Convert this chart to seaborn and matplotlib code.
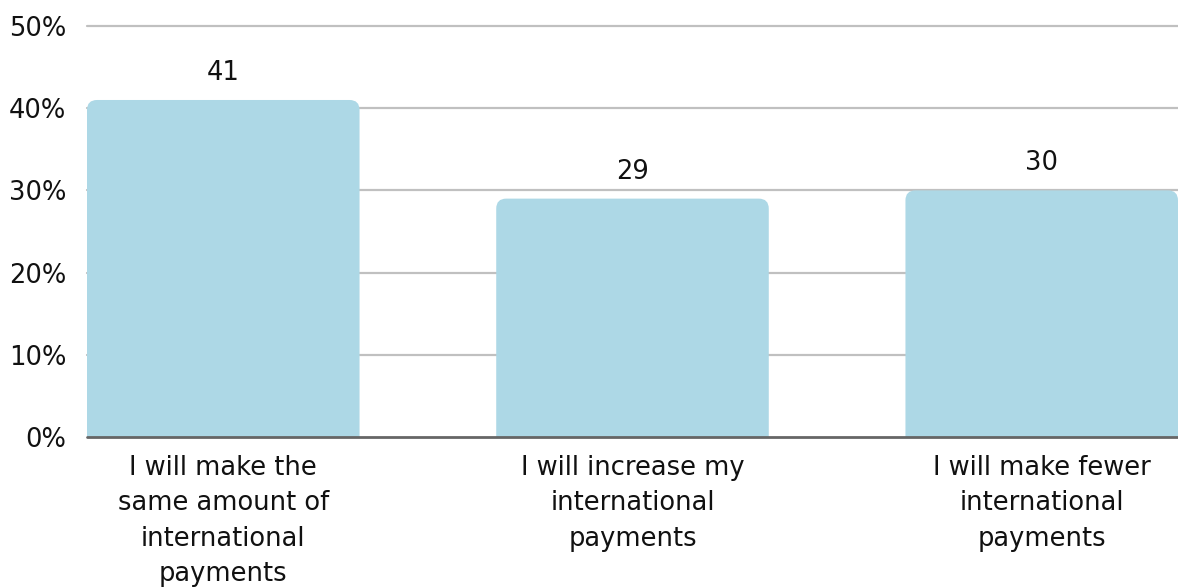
import matplotlib
matplotlib.use("Agg")
import matplotlib.pyplot as plt
from matplotlib.patches import FancyBboxPatch
import seaborn as sns
import pandas as pd

categories = [
    "I will make the\nsame amount of\ninternational\npayments",
    "I will increase my\ninternational\npayments",
    "I will make fewer\ninternational\npayments",
]
values = [41, 29, 30]
y_ticks = [0, 10, 20, 30, 40, 50]
y_tick_labels = ["0%", "10%", "20%", "30%", "40%", "50%"]

bar_color = "#add8e6"
grid_color = "#c0c0c0"
text_color = "#111111"
font_size = 18.5

sns.set_theme(style="white")
plt.rcParams["font.family"] = ["DejaVu Sans"]

df = pd.DataFrame({"category": categories, "value": values})

fig = plt.figure(figsize=(11.78, 5.88), dpi=100)
ax = fig.add_axes([87 / 1178, 1 - 437 / 588, 1 - 87 / 1178, (437 - 26) / 588])

sns.barplot(data=df, x="category", y="value", color=bar_color,
            width=0.666, saturation=1, ax=ax, zorder=2)

ax.set_ylim(0, 50)
ax.set_xlim(-0.333, 2.333)
ax.set_yticks(y_ticks)
ax.set_yticklabels(y_tick_labels)

# horizontal gridlines behind the bars, darker baseline at 0
for t in y_ticks[1:]:
    ax.axhline(t, color=grid_color, lw=1.6, zorder=1, clip_on=False)
ax.axhline(0, color="#666666", lw=2, zorder=3, clip_on=False)

# swap plain rectangles for bars with rounded top corners
fig.canvas.draw()
px_per_x = ax.get_window_extent().width / (ax.get_xlim()[1] - ax.get_xlim()[0])
px_per_y = ax.get_window_extent().height / (ax.get_ylim()[1] - ax.get_ylim()[0])
radius_px = 10
rx = radius_px / px_per_x
aspect = px_per_x / px_per_y
for p in list(ax.patches):
    x, w, h = p.get_x(), p.get_width(), p.get_height()
    p.set_visible(False)
    rounded = FancyBboxPatch((x, -5), w, h + 5,
                             boxstyle=f"round,pad=0,rounding_size={rx}",
                             mutation_aspect=aspect,
                             facecolor=bar_color, edgecolor="none", zorder=2)
    ax.add_patch(rounded)
    ax.text(x + w / 2, h + 14 / px_per_y, f"{h:.0f}", ha="center", va="bottom",
            fontsize=font_size, color=text_color, zorder=4)

for s in ax.spines.values():
    s.set_visible(False)

ax.tick_params(axis="y", length=0, pad=15, labelsize=font_size, labelcolor=text_color)
ax.tick_params(axis="x", length=0, pad=13, labelsize=font_size, labelcolor=text_color)
for lbl in ax.get_xticklabels():
    lbl.set_linespacing(1.47)
    lbl.set_va("top")
ax.set_xlabel("")
ax.set_ylabel("")

fig.savefig("out.png", dpi=100)
